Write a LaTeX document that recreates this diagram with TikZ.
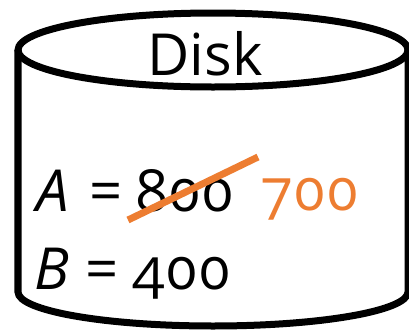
\documentclass[tikz,border=0pt]{standalone}
\usepackage{fontspec}
\setmainfont[Numbers=OldStyle]{Open Sans}
\definecolor{accent}{HTML}{ED7D31}
\begin{document}
\begin{tikzpicture}[x=1bp,y=-1bp,
  outline/.style={line width=7bp,draw=black},
  txt/.style={font=\fontsize{58bp}{64bp}\selectfont,inner sep=0pt,anchor=base},
  strike/.style={line width=7bp,draw=accent}]
\useasboundingbox (0,0) rectangle (409,331);
\draw[outline] (213,50) ellipse [x radius=195, y radius=37];
\draw[outline] (18,50) -- (18,292) arc[start angle=180,end angle=0,x radius=195,y radius=34] -- (408,50);
\node[txt] (disk) at (205,75) {Disk};
\node[txt] (a) at (53,211) {\textit{A}};
\node[txt] (aeq) at (106,211) {=};
\node[txt] (old) at (185,211) {800};
\node[txt,text=accent] (new) at (310,210) {700};
\node[txt] (b) at (52,289) {\textit{B}};
\node[txt] (beq) at (102,289) {=};
\node[txt] (bval) at (182,289) {400};
\draw[strike] (128,220) -- (258,157);
\end{tikzpicture}
\end{document}
